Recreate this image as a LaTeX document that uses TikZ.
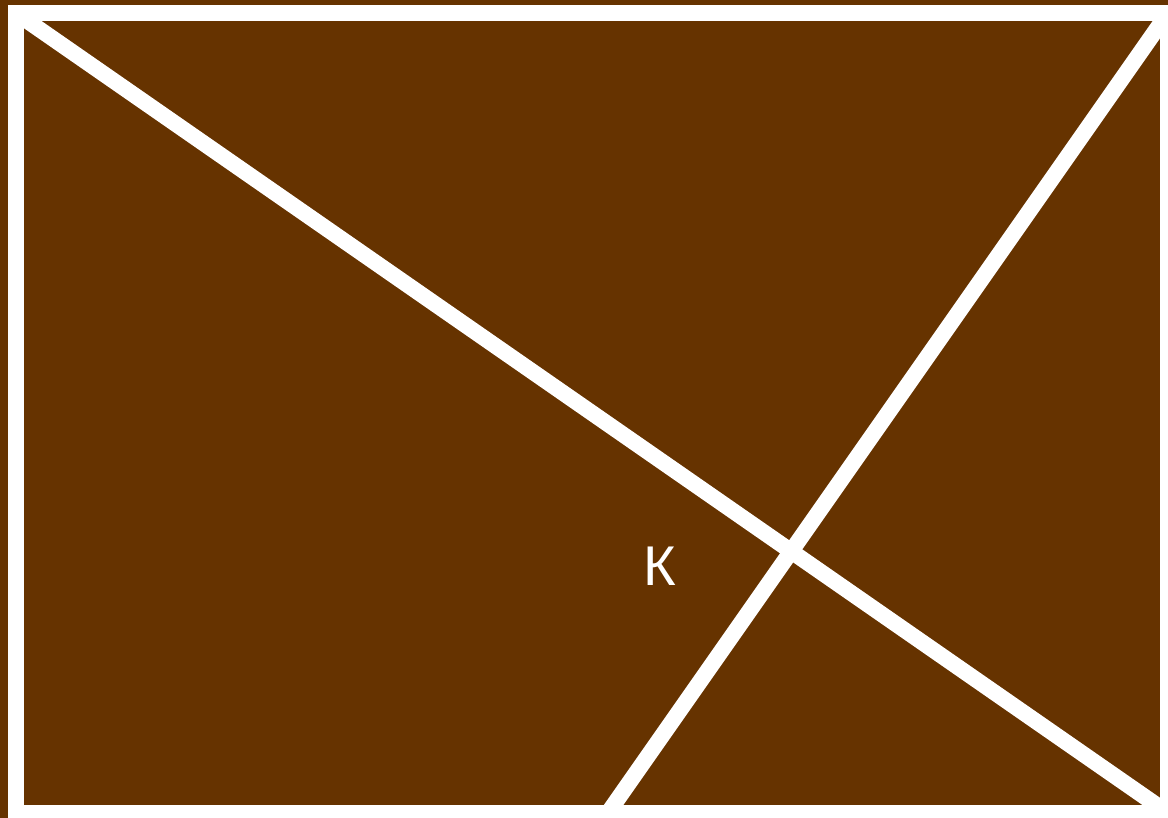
\documentclass[tikz,border=0pt]{standalone}
\usepackage{fontspec}
\newfontfamily\labelfont{Liberation Sans}
\definecolor{plotbrown}{RGB}{102,51,0}

\begin{document}
\begin{tikzpicture}[
  x=1pt, y=-1pt,
  edge/.style={draw=white, line width=16pt},
  lbl/.style={text=white, font=\labelfont\fontsize{56}{60}\selectfont, inner sep=0pt}
]
\useasboundingbox (0,0) rectangle (1168,818);
\fill[plotbrown] (0,0) rectangle (1168,818);
\clip (0,0) rectangle (1168,818);

\coordinate (tl) at (16,13);
\coordinate (tr) at (1168,13);
\coordinate (br) at (1168,813);
\coordinate (bl) at (16,813);
\coordinate (bm) at (608,813);

\draw[edge] (tl) -- (br);
\draw[edge] (tr) -- (bm);
\draw[edge, line join=miter] (tl) rectangle (br);

\node[lbl] (k) at (660,566) {К};
\end{tikzpicture}
\end{document}
